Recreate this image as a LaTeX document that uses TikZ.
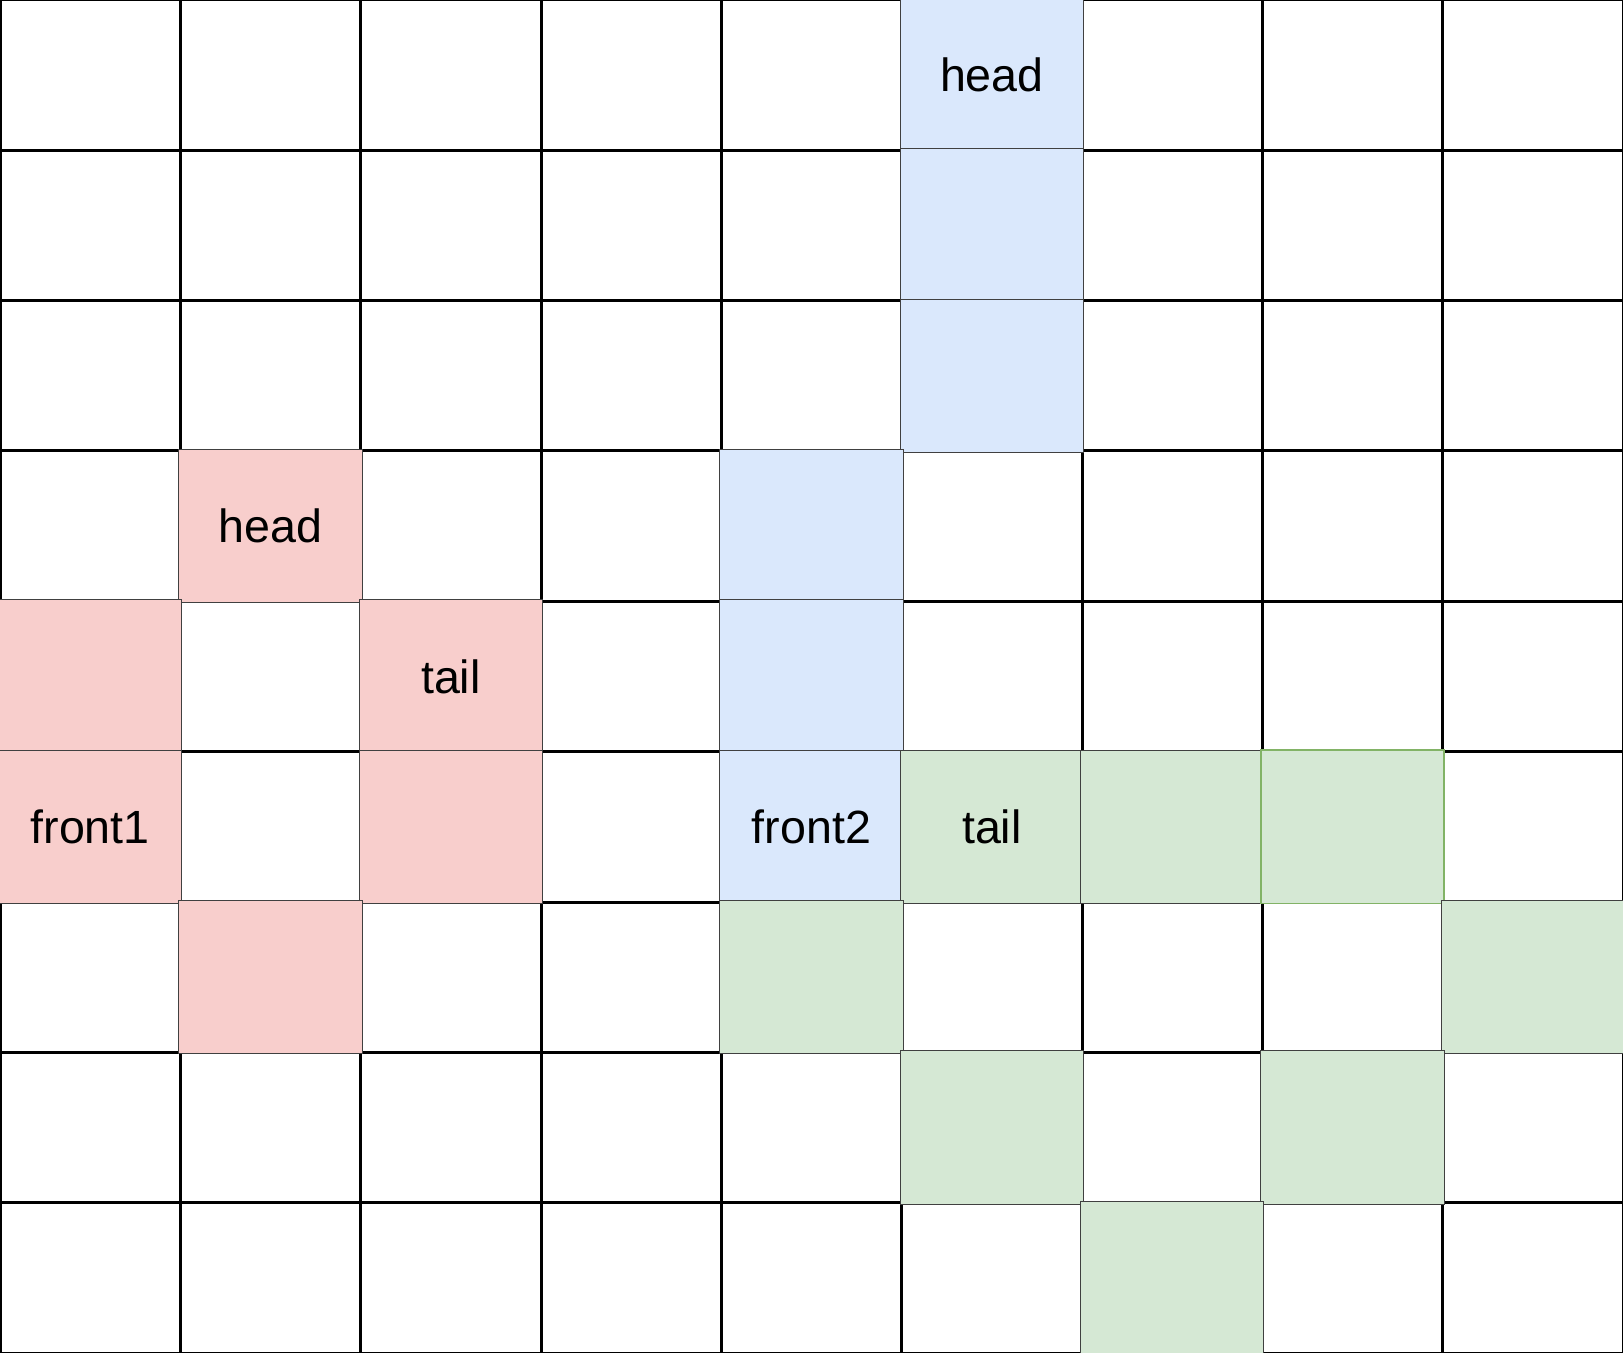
\documentclass[tikz,border=0pt]{standalone}
\usepackage{fontspec}
\setmainfont{Liberation Sans}
\definecolor{bluefill}{HTML}{DAE8FC}
\definecolor{redfill}{HTML}{F8CECC}
\definecolor{greenfill}{HTML}{D5E8D4}
\definecolor{greenline}{HTML}{82B366}
\begin{document}
\begin{tikzpicture}[x=90.1667pt,y=-75.1667pt,
  gridcell/.style={draw=black,line width=1.5pt,minimum width=90.1667pt,minimum height=75.1667pt,inner sep=0pt,outer sep=0pt},
  colcell/.style={draw=black!75,line width=0.6pt,minimum width=91.67pt,minimum height=76.67pt,inner sep=0pt,outer sep=0pt,font=\fontsize{23.3}{28}\selectfont},
  bluecell/.style={colcell,fill=bluefill},
  redcell/.style={colcell,fill=redfill},
  greencell/.style={colcell,fill=greenfill}]
\useasboundingbox (0,0) rectangle (9,9);
\fill[white] (0,0) rectangle (9,9);
\foreach \r in {0,...,8}{
  \foreach \c in {0,...,8}{
    \node[gridcell] (cell-\r-\c) at (\c+0.5,\r+0.5) {};
  }
}
% blue
\node[bluecell] (b1) at (5.5,0.5) {head};
\node[bluecell] (b2) at (5.5,1.5) {};
\node[bluecell] (b3) at (5.5,2.5) {};
\node[bluecell] (b4) at (4.5,3.5) {};
\node[bluecell] (b5) at (4.5,4.5) {};
\node[bluecell] (b6) at (4.5,5.5) {front2};
% red
\node[redcell] (r1) at (1.5,3.5) {head};
\node[redcell] (r2) at (0.5,4.5) {};
\node[redcell] (r3) at (2.5,4.5) {tail};
\node[redcell] (r4) at (0.5,5.5) {front1};
\node[redcell] (r5) at (2.5,5.5) {};
\node[redcell] (r6) at (1.5,6.5) {};
% green
\node[greencell] (g1) at (5.5,5.5) {tail};
\node[greencell] (g2) at (6.5,5.5) {};
\node[greencell,draw=greenline,line width=0.9pt] (g3) at (7.5,5.5) {};
\node[greencell] (g4) at (4.5,6.5) {};
\node[greencell] (g5) at (8.5,6.5) {};
\node[greencell] (g6) at (5.5,7.5) {};
\node[greencell] (g7) at (7.5,7.5) {};
\node[greencell] (g8) at (6.5,8.5) {};
\end{tikzpicture}
\end{document}
